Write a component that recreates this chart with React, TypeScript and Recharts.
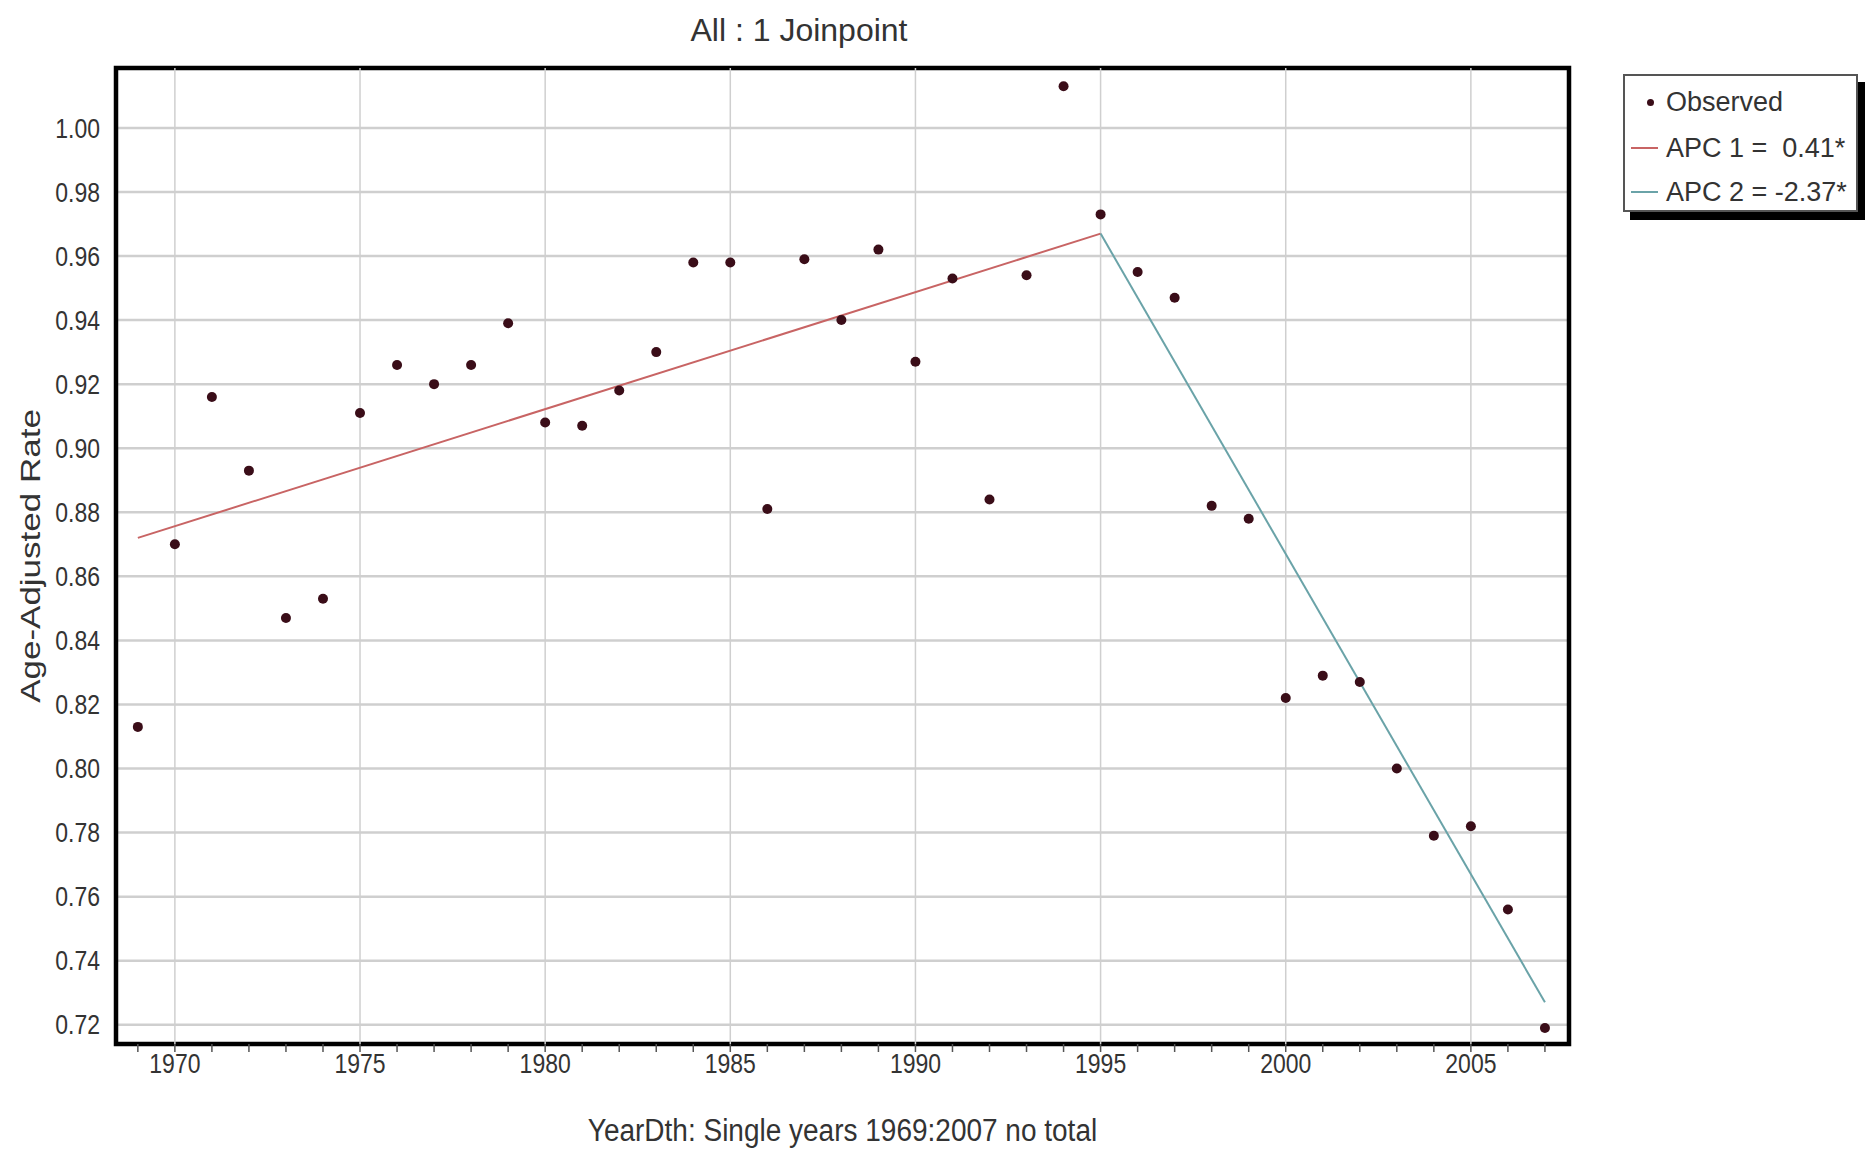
import React from "react";
import {
  ComposedChart,
  CartesianGrid,
  Label,
  Line,
  ReferenceArea,
  ReferenceLine,
  Scatter,
  XAxis,
  YAxis,
} from "recharts";

// Observed age-adjusted rates, one per year 1969..2007
const YEARS = [
  1969, 1970, 1971, 1972, 1973, 1974, 1975, 1976, 1977, 1978, 1979, 1980, 1981,
  1982, 1983, 1984, 1985, 1986, 1987, 1988, 1989, 1990, 1991, 1992, 1993, 1994,
  1995, 1996, 1997, 1998, 1999, 2000, 2001, 2002, 2003, 2004, 2005, 2006, 2007,
];
const OBSERVED = [
  0.813, 0.87, 0.916, 0.893, 0.847, 0.853, 0.911, 0.926, 0.92, 0.926, 0.939,
  0.908, 0.907, 0.918, 0.93, 0.958, 0.958, 0.881, 0.959, 0.94, 0.962, 0.927,
  0.953, 0.884, 0.954, 1.013, 0.973, 0.955, 0.947, 0.882, 0.878, 0.822, 0.829,
  0.827, 0.8, 0.779, 0.782, 0.756, 0.719,
];

// joinpoint segments (endpoints)
const APC1_YEARS = [1969, 1995];
const APC1_RATES = [0.872, 0.967];
const APC2_YEARS = [1995, 2007];
const APC2_RATES = [0.967, 0.727];

const X_LABEL_YEARS = [1970, 1975, 1980, 1985, 1990, 1995, 2000, 2005];
const Y_TICKS = [0.72, 0.74, 0.76, 0.78, 0.8, 0.82, 0.84, 0.86, 0.88, 0.9, 0.92, 0.94, 0.96, 0.98, 1.0];

const X_DOMAIN: [number, number] = [1968.41, 2007.65];
const Y_DOMAIN: [number, number] = [0.714, 1.0187];

const FONT = "'Liberation Sans', Arial, sans-serif";
const TEXT = "#333";
const RED = "#c86464";
const TEAL = "#6aa3a8";
const DOT = "#3a0d18";
const GRID = "#cfcfcf";
// the source picture is stretched vertically, so its text looks tall
const STRETCH = 1.2;

const observed = YEARS.map((year, i) => ({ year, rate: OBSERVED[i] }));
const apc1 = APC1_YEARS.map((year, i) => ({ year, rate: APC1_RATES[i] }));
const apc2 = APC2_YEARS.map((year, i) => ({ year, rate: APC2_RATES[i] }));

function Dot(props: any) {
  const { cx, cy } = props;
  return <circle cx={cx} cy={cy} r={5} fill={DOT} />;
}

function XTick({ x, y, payload }: any) {
  if (payload.value % 5 !== 0) return null;
  return (
    <text
      transform={`translate(${x},${y}) scale(1,${STRETCH})`}
      y={16}
      textAnchor="middle"
      fill={TEXT}
      fontSize={23}
      fontFamily={FONT}
    >
      {payload.value}
    </text>
  );
}

function YTick({ x, y, payload }: any) {
  return (
    <text
      transform={`translate(${x - 8},${y}) scale(1,${STRETCH})`}
      y={8}
      textAnchor="end"
      fill={TEXT}
      fontSize={23}
      fontFamily={FONT}
    >
      {Number(payload.value).toFixed(2)}
    </text>
  );
}

function XTitle({ viewBox }: any) {
  const cx = viewBox.x + viewBox.width / 2;
  return (
    <text
      transform={`translate(${cx},${viewBox.y + 86}) scale(1,1.1)`}
      y={10}
      textAnchor="middle"
      fill={TEXT}
      fontSize={28}
      fontFamily={FONT}
    >
      YearDth: Single years 1969:2007 no total
    </text>
  );
}

function YTitle({ viewBox }: any) {
  const cy = viewBox.y + viewBox.height / 2;
  return (
    <text
      transform={`translate(${viewBox.x - 26},${cy}) rotate(-90) scale(1.25,1)`}
      y={10}
      textAnchor="middle"
      fill={TEXT}
      fontSize={28}
      fontFamily={FONT}
    >
      Age-Adjusted Rate
    </text>
  );
}

function LegendBox() {
  const row = (top: number): React.CSSProperties => ({
    position: "absolute",
    left: 0,
    top,
    height: 40,
    lineHeight: "40px",
    whiteSpace: "nowrap",
  });
  const swatch = (color: string) => (
    <span
      style={{ position: "absolute", left: 6, top: 19, width: 27, height: 2, background: color }}
    />
  );
  return (
    <div
      style={{
        position: "absolute",
        left: 1623,
        top: 74,
        width: 235,
        height: 138,
        border: "2px solid #555",
        background: "#fff",
        boxShadow: "7px 8px 0 #000",
        fontFamily: FONT,
        fontSize: 27,
        color: TEXT,
        boxSizing: "border-box",
      }}
    >
      <div style={row(6)}>
        <span
          style={{ position: "absolute", left: 22, top: 17, width: 7, height: 7, borderRadius: 4, background: DOT }}
        />
        <span style={{ position: "absolute", left: 41 }}>Observed</span>
      </div>
      <div style={row(52)}>
        {swatch(RED)}
        <span style={{ position: "absolute", left: 41 }}>APC 1 =&nbsp;&nbsp;0.41*</span>
      </div>
      <div style={row(96)}>
        {swatch(TEAL)}
        <span style={{ position: "absolute", left: 41 }}>APC 2 = -2.37*</span>
      </div>
    </div>
  );
}

export default function App() {
  return (
    <div style={{ position: "absolute", left: 0, top: 0, width: 1875, height: 1150, background: "#fff" }}>
      <div
        style={{
          position: "absolute",
          left: 0,
          width: 1598,
          top: 10,
          lineHeight: "40px",
          textAlign: "center",
          fontFamily: FONT,
          fontSize: 32,
          color: TEXT,
        }}
      >
        All : 1 Joinpoint
      </div>
      <ComposedChart
        width={1875}
        height={1150}
        margin={{ top: 68, right: 306, bottom: 46, left: 56 }}
        style={{ position: "absolute", left: 0, top: 0 }}
      >
        <CartesianGrid vertical={false} stroke={GRID} strokeWidth={2.5} />
        {X_LABEL_YEARS.map((y) => (
          <ReferenceLine key={y} x={y} stroke={GRID} strokeWidth={1.5} />
        ))}
        <XAxis
          dataKey="year"
          type="number"
          domain={X_DOMAIN}
          allowDataOverflow
          ticks={YEARS}
          interval={0}
          tick={<XTick />}
          tickSize={8}
          tickLine={{ stroke: "#555", strokeWidth: 1.5 }}
          axisLine={false}
          height={60}
        >
          <Label content={<XTitle />} />
        </XAxis>
        <YAxis
          type="number"
          domain={Y_DOMAIN}
          allowDataOverflow
          ticks={Y_TICKS}
          interval={0}
          tick={<YTick />}
          tickLine={false}
          axisLine={false}
          width={60}
        >
          <Label content={<YTitle />} />
        </YAxis>
        <Line
          data={apc1}
          dataKey="rate"
          stroke={RED}
          strokeWidth={2}
          dot={false}
          isAnimationActive={false}
          name="APC 1"
        />
        <Line
          data={apc2}
          dataKey="rate"
          stroke={TEAL}
          strokeWidth={2}
          dot={false}
          isAnimationActive={false}
          name="APC 2"
        />
        <Scatter data={observed} dataKey="rate" shape={<Dot />} isAnimationActive={false} name="Observed" />
        <ReferenceArea
          x1={X_DOMAIN[0]}
          x2={X_DOMAIN[1]}
          y1={Y_DOMAIN[0]}
          y2={Y_DOMAIN[1]}
          fill="none"
          stroke="#000"
          strokeWidth={4.5}
          ifOverflow="visible"
        />
      </ComposedChart>
      <LegendBox />
    </div>
  );
}
